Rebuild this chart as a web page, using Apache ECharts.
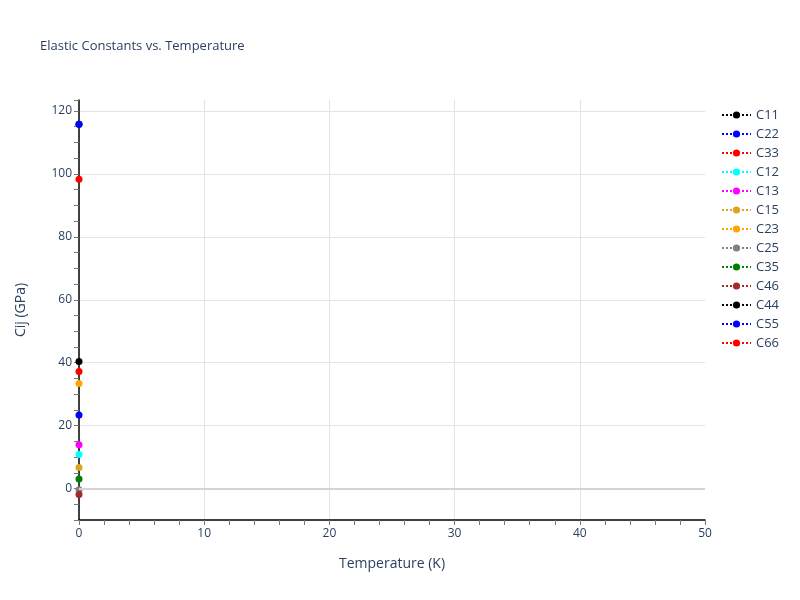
<!DOCTYPE html>
<html>
<head>
<meta charset="utf-8">
<script src="https://cdn.jsdelivr.net/npm/echarts@6/dist/echarts.min.js"></script>
<style>
  html, body { margin: 0; padding: 0; background: #fff; }
  #chart { width: 800px; height: 600px; }
</style>
</head>
<body>
<div id="chart"></div>
<script>
// 数据：每个弹性常数只有一个温度点
const names = ['C11', 'C22', 'C33', 'C12', 'C13', 'C15', 'C23', 'C25', 'C35', 'C46', 'C44', 'C55', 'C66'];
const colors = ['#000000', '#0000ff', '#ff0000', '#00ffff', '#ff00ff', '#daa520', '#ffa500', '#808080', '#008000', '#a52a2a', '#000000', '#0000ff', '#ff0000'];
const temperature = [0];
const values = [
  [115.8], [115.8], [98.3], [10.8], [13.9], [6.7], [33.4],
  [-0.4], [3.0], [-1.9], [40.4], [23.4], [37.2]
];
const xGrid = [10, 20, 30, 40];          // 竖向网格线
const yGrid = [20, 40, 60, 80, 100, 120]; // 横向网格线
const xRange = [0, 50, 2];
const yRange = [-10, 123.5, 5];

const textColor = '#2a3f5f';
const gridColor = '#e3e3e3';

// 按刻度给分隔线配色，只在需要的位置显示
function lineColors(range, grid) {
  const out = [];
  for (let v = range[0]; v <= range[1] + 1e-9; v += range[2]) out.push(grid.includes(v) ? gridColor : 'rgba(0,0,0,0)');
  if (out.length && (range[1] - range[0]) % range[2] !== 0) out.push('rgba(0,0,0,0)');
  return out;
}

const series = names.map((name, i) => ({
  name: name,
  type: 'line',
  data: temperature.map((t, j) => [t, values[i][j]]),
  symbol: 'circle',
  symbolSize: 7,
  showSymbol: true,
  z: i === 0 ? 1 : 2,
  itemStyle: { color: colors[i] },
  lineStyle: { color: colors[i], type: 'dotted', width: 2 },
  emphasis: { disabled: true },
  markLine: i === 0 ? {
    silent: true,
    symbol: 'none',
    label: { show: false },
    lineStyle: { color: '#d4d4d4', type: 'solid', width: 2 },
    data: [{ yAxis: 0 }]
  } : undefined
}));

const chart = echarts.init(document.getElementById('chart'));
chart.setOption({
  animation: false,
  backgroundColor: '#fff',
  textStyle: { fontFamily: '"Open Sans", sans-serif' },
  title: {
    text: 'Elastic Constants vs. Temperature',
    left: 35,
    top: 35,
    textStyle: { fontSize: 13, fontWeight: 'normal', color: textColor }
  },
  legend: {
    orient: 'vertical',
    left: 716,
    top: 103,
    itemWidth: 29,
    itemHeight: 9,
    itemGap: 5,
    data: names,
    textStyle: { fontSize: 13, lineHeight: 14, color: textColor }
  },
  grid: { left: 79, right: 95, top: 100, bottom: 80 },
  xAxis: {
    type: 'value',
    min: xRange[0],
    max: xRange[1],
    interval: xRange[2],
    name: 'Temperature (K)',
    nameLocation: 'middle',
    nameGap: 37,
    nameTextStyle: { fontSize: 14, color: textColor },
    axisLine: { show: true, onZero: false, lineStyle: { color: '#000', width: 1.5 } },
    axisTick: { show: true, length: 5, lineStyle: { color: '#777' } },
    axisLabel: {
      margin: 8, fontSize: 12, color: textColor,
      formatter: v => (v % 10 === 0 ? String(v) : '')
    },
    splitLine: { show: true, lineStyle: { color: lineColors(xRange, xGrid), width: 1 } }
  },
  yAxis: {
    type: 'value',
    min: yRange[0],
    max: yRange[1],
    interval: yRange[2],
    name: 'Cij (GPa)',
    nameLocation: 'middle',
    nameGap: 51,
    nameTextStyle: { fontSize: 14, color: textColor },
    axisLine: { show: true, onZero: false, lineStyle: { color: '#000', width: 1.5 } },
    axisTick: { show: true, length: 5, lineStyle: { color: '#777' } },
    axisLabel: {
      margin: 7, fontSize: 12, color: textColor,
      formatter: v => (v % 20 === 0 ? String(v) : '')
    },
    splitLine: { show: true, lineStyle: { color: lineColors(yRange, yGrid), width: 1 } }
  },
  series: series
});
</script>
</body>
</html>
